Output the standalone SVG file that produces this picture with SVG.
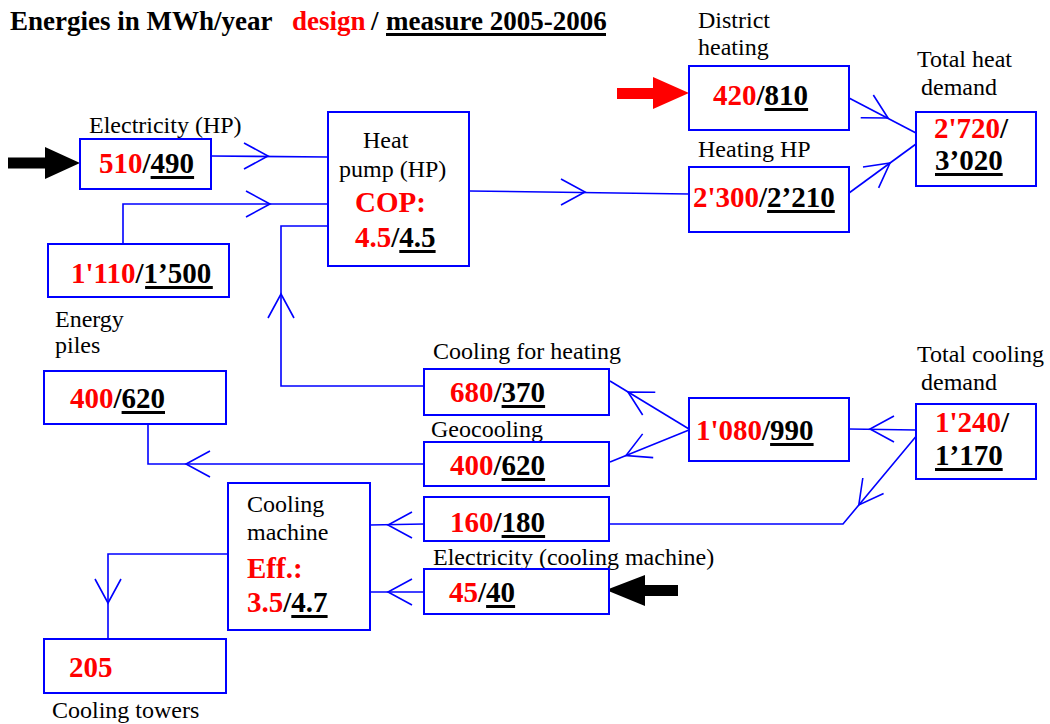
<svg xmlns="http://www.w3.org/2000/svg" width="1050" height="724" viewBox="0 0 1050 724">
<defs>
<style>
.box{fill:#fff;stroke:#0000ff;stroke-width:2}
.lbl{font-family:"Liberation Serif","Times New Roman",serif;font-size:24px;fill:#000}
.num{font-family:"Liberation Serif","Times New Roman",serif;font-size:29px;font-weight:bold;fill:#000}
.ttl{font-family:"Liberation Serif","Times New Roman",serif;font-size:27px;font-weight:bold;fill:#000}
.r{fill:#ff0000}
.ul{stroke:#000;stroke-width:3}
.con{fill:none;stroke:#0000ff;stroke-width:1.6}
.ch{fill:none;stroke:none;marker-end:url(#chev)}
</style>
<marker id="chev" markerUnits="userSpaceOnUse" orient="auto" overflow="visible" markerWidth="1" markerHeight="1" refX="0" refY="0"><path d="M-24,-13 L0,0 L-24,13" fill="none" stroke="#0000ff" stroke-width="1.6"/></marker>
</defs>
<rect width="1050" height="724" fill="#fff"/>

<g id="title">
<text class="ttl" y="30"><tspan x="10">Energies in MWh/year</tspan><tspan x="292" class="r">design</tspan><tspan x="371">/</tspan><tspan x="386">measure 2005-2006</tspan></text>
<line class="ul" x1="386" y1="34.5" x2="606" y2="34.5"/>
</g>

<g id="connectors">
<path class="con" d="M211,156 L328,157"/>
<path class="ch" d="M267,156 L268,156"/>
<path class="con" d="M123,244 L123,204 L328,204"/>
<path class="ch" d="M269,204 L270,204"/>
<path class="con" d="M424,386 L281,386 L281,226 L328,226"/>
<path class="ch" d="M281,296 L281,294"/>
<path class="con" d="M469,191 L689,194"/>
<path class="ch" d="M584,192 L585,192"/>
<path class="con" d="M849,98 L916,133"/>
<path class="ch" d="M887.1,117.5 L888,118"/>
<path class="con" d="M849,193 L916,144"/>
<path class="ch" d="M889.2,163.6 L890,163"/>
<path class="con" d="M916,430 L849,429"/>
<path class="ch" d="M871,429 L870,429"/>
<path class="con" d="M918,434 L843,524 L610,524"/>
<path class="ch" d="M859.4,504.2 L858.8,505"/>
<path class="con" d="M689,429 L610,381"/>
<path class="ch" d="M628.9,392.5 L628,392"/>
<path class="con" d="M689,430 L610,462"/>
<path class="ch" d="M626.9,455.1 L626,455.5"/>
<path class="con" d="M424,464 L148,464 L148,424"/>
<path class="ch" d="M187,464 L186,464"/>
<path class="con" d="M424,524 L370,525"/>
<path class="ch" d="M389,525 L388,525"/>
<path class="con" d="M424,592 L370,592"/>
<path class="ch" d="M389,592 L388,592"/>
<path class="con" d="M228,554 L108,554 L108,639"/>
<path class="ch" d="M108,602 L108,603"/>
<polygon id="arrow-elec-hp" points="8,157.5 45,157.5 45,147 80,163 45,179 45,168.5 8,168.5" fill="#000"/>
<polygon id="arrow-district" points="617,88 653,88 653,77 689,93 653,109 653,99 617,99" fill="#ff0000"/>
<polygon id="arrow-elec-cm" points="678,585 645,585 645,575 606,590 645,606 645,596 678,596" fill="#000"/>
</g>

<g id="elec-hp">
<text class="lbl" x="89" y="133">Electricity (HP)</text>
<rect class="box" x="80" y="139" width="131" height="50"/>
<text class="num" x="99" y="173"><tspan class="r">510</tspan>/490</text>
<line class="ul" x1="150.6" y1="177.5" x2="194.1" y2="177.5"/>
</g>

<g id="heat-pump">
<rect class="box" x="328" y="112" width="141" height="154"/>
<text class="lbl" x="363" y="148">Heat</text>
<text class="lbl" x="339" y="177">pump (HP)</text>
<text class="num r" x="355" y="212">COP:</text>
<text class="num" x="355" y="247"><tspan class="r">4.5</tspan>/4.5</text>
<line class="ul" x1="399.3" y1="251.5" x2="435.6" y2="251.5"/>
</g>

<g id="piles-heat">
<rect class="box" x="48" y="244" width="181" height="53"/>
<text class="num" x="71" y="283"><tspan class="r">1'110</tspan>/1’500</text>
<line class="ul" x1="145.1" y1="287.5" x2="212.8" y2="287.5"/>
</g>

<g id="district-heating">
<text class="lbl" x="698" y="28">District</text>
<text class="lbl" x="698" y="55">heating</text>
<rect class="box" x="689" y="66" width="160" height="64"/>
<text class="num" x="713" y="105"><tspan class="r">420</tspan>/810</text>
<line class="ul" x1="764.6" y1="109.5" x2="808.1" y2="109.5"/>
</g>

<g id="heating-hp">
<text class="lbl" x="698" y="157">Heating HP</text>
<rect class="box" x="689" y="167" width="160" height="65"/>
<text class="num" x="693" y="207"><tspan class="r">2'300</tspan>/2’210</text>
<line class="ul" x1="767.1" y1="211.5" x2="834.8" y2="211.5"/>
</g>

<g id="total-heat">
<text class="lbl" x="917" y="67">Total heat</text>
<text class="lbl" x="921" y="95">demand</text>
<rect class="box" x="916" y="112" width="120" height="74"/>
<text class="num" x="934" y="138"><tspan class="r">2'720</tspan>/</text>
<text class="num" x="935" y="170">3’020</text>
<line class="ul" x1="935" y1="174.5" x2="1002.7" y2="174.5"/>
</g>

<g id="energy-piles">
<text class="lbl" x="55" y="327">Energy</text>
<text class="lbl" x="55" y="353">piles</text>
<rect class="box" x="44" y="371" width="182" height="53"/>
<text class="num" x="70" y="408"><tspan class="r">400</tspan>/620</text>
<line class="ul" x1="121.6" y1="412.5" x2="165" y2="412.5"/>
</g>

<g id="cooling-for-heating">
<text class="lbl" x="433" y="359">Cooling for heating</text>
<rect class="box" x="424" y="369" width="185" height="46"/>
<text class="num" x="450" y="402"><tspan class="r">680</tspan>/370</text>
<line class="ul" x1="501.6" y1="406.5" x2="545.1" y2="406.5"/>
</g>

<g id="geocooling">
<text class="lbl" x="431" y="437">Geocooling</text>
<rect class="box" x="424" y="442" width="185" height="44"/>
<text class="num" x="450" y="475"><tspan class="r">400</tspan>/620</text>
<line class="ul" x1="501.6" y1="479.5" x2="545.1" y2="479.5"/>
</g>

<g id="cooling-split">
<rect class="box" x="689" y="398" width="160" height="63"/>
<text class="num" x="696" y="440"><tspan class="r">1'080</tspan>/990</text>
<line class="ul" x1="770.1" y1="444.5" x2="813.6" y2="444.5"/>
</g>

<g id="total-cooling">
<text class="lbl" x="917" y="362">Total cooling</text>
<text class="lbl" x="921" y="390">demand</text>
<rect class="box" x="916" y="404" width="120" height="75"/>
<text class="num" x="935" y="432"><tspan class="r">1'240</tspan>/</text>
<text class="num" x="935" y="465">1’170</text>
<line class="ul" x1="935" y1="469.5" x2="1002.7" y2="469.5"/>
</g>

<g id="cooling-machine-load">
<rect class="box" x="424" y="497" width="185" height="44"/>
<text class="num" x="450" y="532"><tspan class="r">160</tspan>/180</text>
<line class="ul" x1="501.6" y1="536.5" x2="545.1" y2="536.5"/>
</g>

<g id="elec-cm">
<text class="lbl" x="433" y="565">Electricity (cooling machine)</text>
<rect class="box" x="424" y="569" width="185" height="45"/>
<text class="num" x="449" y="602"><tspan class="r">45</tspan>/40</text>
<line class="ul" x1="486.1" y1="606.5" x2="515.1" y2="606.5"/>
</g>

<g id="cooling-machine">
<rect class="box" x="228" y="483" width="142" height="147"/>
<text class="lbl" x="247" y="512">Cooling</text>
<text class="lbl" x="247" y="540">machine</text>
<text class="num r" x="247" y="578">Eff.:</text>
<text class="num" x="247" y="612"><tspan class="r">3.5</tspan>/4.7</text>
<line class="ul" x1="291.3" y1="616.5" x2="327.6" y2="616.5"/>
</g>

<g id="cooling-towers">
<rect class="box" x="44" y="639" width="182" height="54"/>
<text class="num r" x="69" y="677">205</text>
<text class="lbl" x="52" y="718">Cooling towers</text>
</g>
</svg>
